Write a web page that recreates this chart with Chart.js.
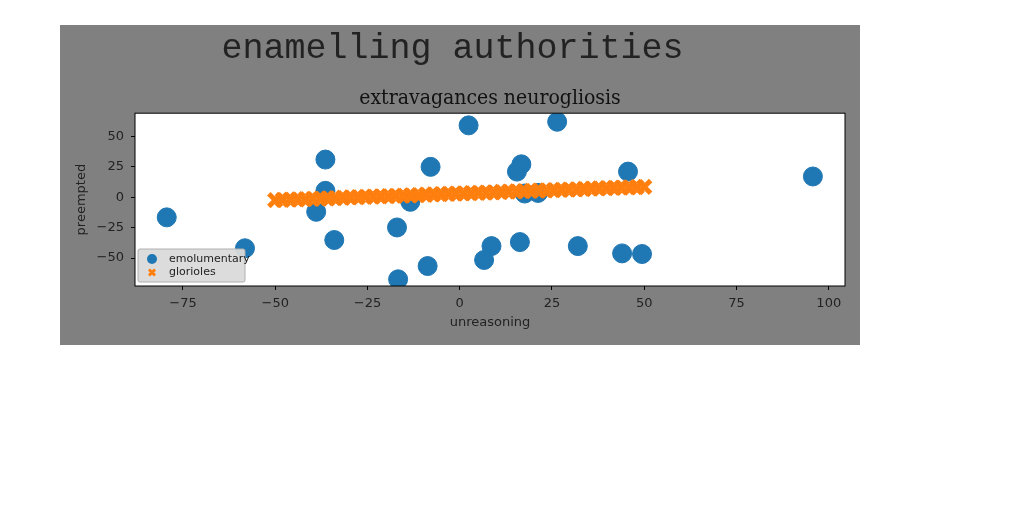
<!DOCTYPE html>
<html>
<head>
<meta charset="utf-8">
<script src="https://cdn.jsdelivr.net/npm/chart.js@4"></script>
<style>
  body { margin: 0; background: #fff; }
  #box { position: absolute; left: 60px; top: 25px; width: 800px; height: 320px; background: #808080; }
</style>
</head>
<body>
<div id="box"><canvas id="c" width="800" height="320"></canvas></div>
<script>
// blue dots
const emolX = [-79.4, -58.2, -36.4, -36.4, -38.9, -34, -17, -16.7, -8.7, -7.9, -13.4, 2.4, 26.4, 16.7, 15.5, 45.6, 95.7, 17.6, 21.2, 8.6, 6.6, 16.3, 32, 44, 49.4];
const emolY = [-16.6, -42, 30.9, 5.2, -12, -35.2, -24.9, -67.5, -56.6, 24.9, -3.8, 59, 62, 27, 21, 21, 17, 3, 3.5, -40.2, -51.6, -36.9, -40.2, -46.2, -46.7];
// orange crosses
const glorX = [-50, -47.96, -45.92, -43.88, -41.84, -39.8, -37.76, -35.71, -33.67, -31.63, -29.59, -27.55, -25.51, -23.47, -21.43, -19.39, -17.35, -15.31, -13.27, -11.22, -9.18, -7.14, -5.1, -3.06, -1.02, 1.02, 3.06, 5.1, 7.14, 9.18, 11.22, 13.27, 15.31, 17.35, 19.39, 21.43, 23.47, 25.51, 27.55, 29.59, 31.63, 33.67, 35.71, 37.76, 39.8, 41.84, 43.88, 45.92, 47.96, 50];
const glorY = [-2.5, -2.28, -2.05, -1.83, -1.6, -1.38, -1.15, -0.93, -0.7, -0.48, -0.26, -0.03, 0.19, 0.42, 0.64, 0.87, 1.09, 1.32, 1.54, 1.77, 1.99, 2.21, 2.44, 2.66, 2.89, 3.11, 3.34, 3.56, 3.79, 4.01, 4.24, 4.46, 4.68, 4.91, 5.13, 5.36, 5.58, 5.81, 6.03, 6.26, 6.48, 6.71, 6.93, 7.15, 7.38, 7.6, 7.83, 8.05, 8.28, 8.5];
const xTicks = [-75, -50, -25, 0, 25, 50, 75, 100];
const yTicks = [-50, -25, 0, 25, 50];

const pts = (xs, ys) => xs.map((x, i) => ({x: x, y: ys[i]}));
const minus = v => String(v).replace('-', '\u2212');
const tickFont = { family: '"DejaVu Sans"', size: 13 };

// legend inside the plot, lower left
const innerLegend = {
  id: 'innerLegend',
  afterDraw(chart) {
    const ctx = chart.ctx, a = chart.chartArea;
    const x0 = a.left + 3, y0 = a.bottom - 37, w = 107, h = 33;
    ctx.save();
    ctx.fillStyle = 'rgba(218,218,218,0.95)';
    ctx.strokeStyle = '#b0b0b0';
    ctx.lineWidth = 1;
    ctx.beginPath();
    ctx.roundRect(x0, y0, w, h, 2);
    ctx.fill();
    ctx.stroke();
    ctx.font = '11px "DejaVu Sans"';
    ctx.textBaseline = 'middle';
    chart.data.datasets.forEach((ds, i) => {
      const cy = y0 + 10 + i * 13.5, cx = x0 + 14;
      ctx.fillStyle = ds.backgroundColor;
      ctx.strokeStyle = ds.borderColor;
      if (ds.pointStyle === 'crossRot') {
        ctx.lineWidth = 3;
        ctx.beginPath();
        ctx.moveTo(cx - 3, cy - 3); ctx.lineTo(cx + 3, cy + 3);
        ctx.moveTo(cx + 3, cy - 3); ctx.lineTo(cx - 3, cy + 3);
        ctx.stroke();
      } else {
        ctx.beginPath();
        ctx.arc(cx, cy, 5, 0, Math.PI * 2);
        ctx.fill();
      }
      ctx.fillStyle = '#222';
      ctx.fillText(ds.label, x0 + 31, cy);
    });
    // plot frame
    ctx.strokeStyle = '#000';
    ctx.lineWidth = 1;
    ctx.strokeRect(a.left, a.top, a.right - a.left, a.bottom - a.top);
    ctx.restore();
  }
};

const whiteArea = {
  id: 'whiteArea',
  beforeDraw(chart) {
    const a = chart.chartArea, ctx = chart.ctx;
    ctx.save();
    ctx.fillStyle = '#fff';
    ctx.fillRect(a.left, a.top, a.right - a.left, a.bottom - a.top);
    ctx.restore();
  }
};

new Chart(document.getElementById('c'), {
  type: 'scatter',
  data: {
    datasets: [{
      label: 'emolumentary',
      data: pts(emolX, emolY),
      backgroundColor: '#1f77b4',
      borderColor: '#1f77b4',
      pointRadius: 9.5,
      pointHoverRadius: 9.5,
      order: 1
    }, {
      label: 'glorioles',
      data: pts(glorX, glorY),
      backgroundColor: '#ff7f0e',
      borderColor: '#ff7f0e',
      pointStyle: 'crossRot',
      pointRadius: 9,
      pointBorderWidth: 5,
      order: 0
    }]
  },
  options: {
    responsive: false,
    animation: false,
    layout: { padding: { right: 15 } },
    plugins: {
      legend: { display: false },
      tooltip: { enabled: false },
      title: {
        display: true,
        text: 'enamelling authorities',
        color: '#222',
        font: { family: '"Liberation Mono"', size: 35, weight: 'normal' },
        padding: { top: 3, bottom: 16 }
      },
      subtitle: {
        display: true,
        fullSize: false,
        text: 'extravagances neurogliosis',
        color: '#111',
        font: { family: '"DejaVu Serif Condensed", "DejaVu Serif"', size: 21 },
        padding: { top: 0, bottom: 2 }
      }
    },
    scales: {
      x: {
        type: 'linear',
        min: -88, max: 104.4,
        afterBuildTicks: s => { s.ticks = xTicks.map(v => ({value: v})); },
        afterFit: s => { s.height = 59; },
        grid: { display: true, drawOnChartArea: false, drawTicks: true, tickLength: 4, color: '#000' },
        border: { display: false },
        ticks: { color: '#222', font: tickFont, padding: 6, callback: v => minus(v) },
        title: { display: true, text: 'unreasoning', color: '#222', font: tickFont, padding: { top: 0, bottom: 15 } }
      },
      y: {
        type: 'linear',
        min: -73, max: 69,
        afterBuildTicks: s => { s.ticks = yTicks.map(v => ({value: v})); },
        afterFit: s => { s.width = 75; },
        grid: { display: true, drawOnChartArea: false, drawTicks: true, tickLength: 4, color: '#000' },
        border: { display: false },
        ticks: { color: '#222', font: tickFont, padding: 7, callback: v => minus(v) },
        title: { display: true, text: 'preempted', color: '#222', font: tickFont, padding: { top: 14, bottom: 0 } }
      }
    }
  },
  plugins: [whiteArea, innerLegend]
});
</script>
</body>
</html>
